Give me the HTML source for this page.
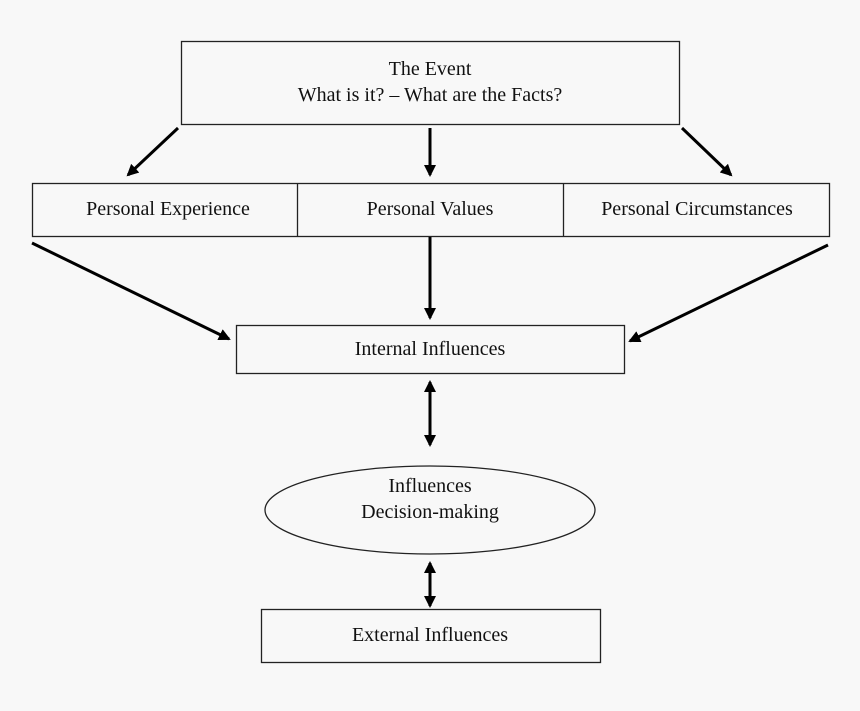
<!DOCTYPE html>
<html><head><meta charset="utf-8"><style>
html,body{margin:0;padding:0;background:#f8f8f8;}
svg{display:block}
text{font-family:"Liberation Serif",serif;font-size:20px;fill:#111;text-anchor:middle}
</style></head><body>
<svg width="860" height="711" viewBox="0 0 860 711">
<defs>
<marker id="a" markerWidth="12" markerHeight="12" refX="10" refY="6" orient="auto" markerUnits="userSpaceOnUse">
<path d="M0,0 L12,6 L0,12 Z" fill="#000"/></marker>
<marker id="b" markerWidth="12" markerHeight="12" refX="2" refY="6" orient="auto" markerUnits="userSpaceOnUse">
<path d="M12,0 L0,6 L12,12 Z" fill="#000"/></marker>
</defs>
<g fill="none" stroke="#222" stroke-width="1.3">
<rect x="181.5" y="41.5" width="498" height="83"/>
<rect x="32.5" y="183.5" width="797" height="53"/>
<line x1="297.5" y1="183" x2="297.5" y2="236"/>
<line x1="563.5" y1="183" x2="563.5" y2="236"/>
<rect x="236.5" y="325.5" width="388" height="48"/>
<ellipse cx="430" cy="510" rx="165" ry="44"/>
<rect x="261.5" y="609.5" width="339" height="53"/>
</g>
<g stroke="#000" stroke-width="3" fill="none">
<line x1="178" y1="128" x2="128" y2="175" marker-end="url(#a)"/>
<line x1="430" y1="128" x2="430" y2="175" marker-end="url(#a)"/>
<line x1="682" y1="128" x2="731" y2="175" marker-end="url(#a)"/>
<line x1="32" y1="243" x2="229" y2="339" marker-end="url(#a)"/>
<line x1="430" y1="237" x2="430" y2="318" marker-end="url(#a)"/>
<line x1="828" y1="245" x2="630" y2="341" marker-end="url(#a)"/>
<line x1="430" y1="382" x2="430" y2="445" marker-start="url(#b)" marker-end="url(#a)"/>
<line x1="430" y1="563" x2="430" y2="606" marker-start="url(#b)" marker-end="url(#a)"/>
</g>
<text x="430" y="75">The Event</text>
<text x="430" y="101">What is it? – What are the Facts?</text>
<text x="168" y="215">Personal Experience</text>
<text x="430" y="215">Personal Values</text>
<text x="697" y="215">Personal Circumstances</text>
<text x="430" y="355">Internal Influences</text>
<text x="430" y="492">Influences</text>
<text x="430" y="518">Decision-making</text>
<text x="430" y="641">External Influences</text>
</svg>
</body></html>
